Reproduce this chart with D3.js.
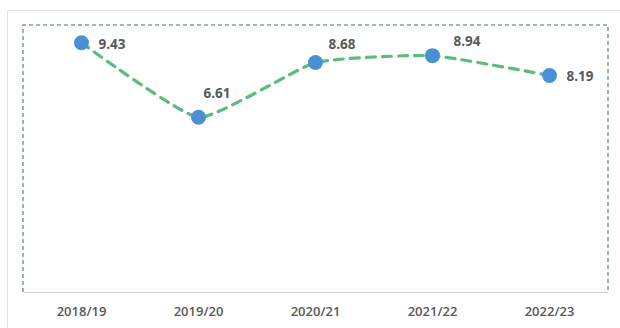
<!DOCTYPE html>
<html><head><meta charset="utf-8">
<script src="https://cdn.jsdelivr.net/npm/d3@7"></script>
<style>body{margin:0;background:#fff}svg{display:block}</style>
</head><body>
<script>
const categories = ["2018/19","2019/20","2020/21","2021/22","2022/23"];
const values = [9.43, 6.61, 8.68, 8.94, 8.19];
const labels = ["9.43","6.61","8.68","8.94","8.19"];

const W = 620, H = 328;
const svg = d3.select("body").append("svg").attr("width", W).attr("height", H);

// outer chart frame
svg.append("rect").attr("x", 7.5).attr("y", 10.5).attr("width", 620).attr("height", 330)
  .attr("fill", "#fff").attr("stroke", "#e2e4e2").attr("stroke-width", 1);

const L = 23, R = 608, T = 25, B = 292;
const x = d3.scaleBand().domain(categories).range([L, R]);
const y = d3.scaleLinear().domain([0, 10.1]).range([B, T]);

// dashed plot frame
svg.append("path")
  .attr("d", `M${L},${B} L${L},${T} L${R},${T} L${R},${B}`)
  .attr("fill", "none").attr("stroke", "#7fa58a").attr("stroke-width", 1.6)
  .attr("stroke-dasharray", "4,3");

// x axis
const xAxis = svg.append("g").attr("transform", `translate(0,${B})`)
  .call(d3.axisBottom(x).tickSize(0).tickPadding(15));
xAxis.select(".domain").attr("stroke", "#d4d4d4").attr("stroke-width", 1.2);
xAxis.selectAll("text").attr("font-family", "'Open Sans', sans-serif")
  .attr("font-size", 13).attr("font-weight", 600).attr("fill", "#595959");

const pts = categories.map((c, i) => [x(c) + x.bandwidth() / 2, y(values[i])]);

svg.append("path").datum(pts)
  .attr("d", d3.line().curve(d3.curveCardinal.tension(0.55)))
  .attr("fill", "none").attr("stroke", "#5cbc7c").attr("stroke-width", 3.2)
  .attr("stroke-dasharray", "9,7").attr("stroke-linecap", "round");

svg.selectAll("circle.pt").data(pts).join("circle")
  .attr("cx", d => d[0]).attr("cy", d => d[1]).attr("r", 7.5)
  .attr("fill", "#4a90d6");

const offs = [[17, 6], [5, -19], [13, -14], [21, -10], [17, 6]];
svg.selectAll("text.lbl").data(pts).join("text")
  .attr("x", (d, i) => d[0] + offs[i][0]).attr("y", (d, i) => d[1] + offs[i][1])
  .attr("font-family", "'Open Sans', sans-serif").attr("font-size", 13.5)
  .attr("font-weight", 700).attr("fill", "#595959")
  .text((d, i) => labels[i]);
</script>
</body></html>
